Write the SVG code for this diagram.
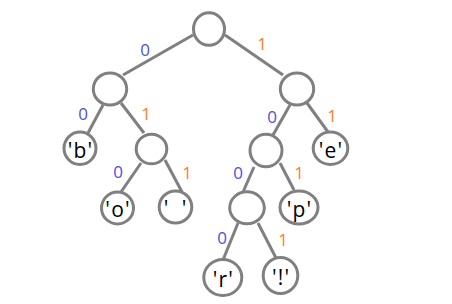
<svg xmlns="http://www.w3.org/2000/svg" width="452" height="304" viewBox="0 0 452 304">
<style>
.edge{stroke:#808080;stroke-width:3;fill:none}
.node{fill:#fff;stroke:#808080;stroke-width:3}
.lbl{font-family:"Open Sans","Noto Sans",sans-serif;font-size:21px;fill:#000;text-anchor:middle;letter-spacing:1.2px}
.b0{font-family:"Open Sans","Noto Sans",sans-serif;font-size:17px;fill:#5050dc;text-anchor:middle}
.b1{font-family:"Open Sans","Noto Sans",sans-serif;font-size:17px;fill:#ff8020;text-anchor:middle}
</style>
<rect width="452" height="304" fill="#fff"/>
<g id="connectors">
<line class="edge" x1="193" y1="35" x2="123" y2="75"/>
<line class="edge" x1="225" y1="35" x2="283" y2="75"/>
<line class="edge" x1="103" y1="105" x2="88" y2="133"/>
<line class="edge" x1="121" y1="103" x2="144" y2="133"/>
<line class="edge" x1="290" y1="105" x2="273" y2="135"/>
<line class="edge" x1="307" y1="103" x2="328" y2="132"/>
<line class="edge" x1="141" y1="163" x2="121" y2="192"/>
<line class="edge" x1="165" y1="160" x2="182" y2="192"/>
<line class="edge" x1="254" y1="167" x2="243" y2="192"/>
<line class="edge" x1="280" y1="163" x2="294" y2="190"/>
<line class="edge" x1="238" y1="223" x2="223" y2="260"/>
<line class="edge" x1="258" y1="223" x2="276" y2="258"/>
<text class="b0" x="145" y="56">0</text>
<text class="b1" x="262" y="50">1</text>
<text class="b0" x="83" y="120">0</text>
<text class="b1" x="146" y="120">1</text>
<text class="b0" x="272" y="123">0</text>
<text class="b1" x="332" y="122">1</text>
<text class="b0" x="118" y="178">0</text>
<text class="b1" x="187" y="179">1</text>
<text class="b0" x="238" y="179">0</text>
<text class="b1" x="299" y="179">1</text>
<text class="b0" x="222" y="244">0</text>
<text class="b1" x="283" y="246">1</text>
</g>
<g id="root"><ellipse class="node" cx="209" cy="29" rx="15.5" ry="16.3"/></g>
<g id="n0"><ellipse class="node" cx="110" cy="89" rx="16.7" ry="16"/></g>
<g id="n1"><ellipse class="node" cx="297" cy="89" rx="16.7" ry="16"/></g>
<g id="nb"><ellipse class="node" cx="80" cy="148.3" rx="16" ry="16.2"/><text class="lbl" x="80.6" y="157.5">'b'</text></g>
<g id="n01"><ellipse class="node" cx="151.5" cy="149" rx="15.3" ry="14.8"/></g>
<g id="n10"><ellipse class="node" cx="266" cy="150.5" rx="16" ry="16.3"/></g>
<g id="ne"><ellipse class="node" cx="330.5" cy="148.3" rx="17.3" ry="16.2"/><text class="lbl" x="331.1" y="157.5">'e'</text></g>
<g id="no"><ellipse class="node" cx="117.5" cy="208" rx="16" ry="16"/><text class="lbl" x="118.1" y="217">'o'</text></g>
<g id="nsp"><ellipse class="node" cx="175.5" cy="207" rx="16.3" ry="16"/><text class="lbl" x="177" y="216" style="letter-spacing:4px" xml:space="preserve">' '</text></g>
<g id="n100"><ellipse class="node" cx="247" cy="207.8" rx="17.3" ry="16"/></g>
<g id="np"><ellipse class="node" cx="299" cy="207.5" rx="19" ry="16.5"/><text class="lbl" x="299.6" y="216.5">'p'</text></g>
<g id="nr"><ellipse class="node" cx="222.8" cy="277.5" rx="19" ry="18"/><text class="lbl" x="223.4" y="286.5">'r'</text></g>
<g id="nex"><ellipse class="node" cx="280.5" cy="275.5" rx="17.3" ry="18"/><text class="lbl" x="281.1" y="284.5">'!'</text></g>
</svg>
